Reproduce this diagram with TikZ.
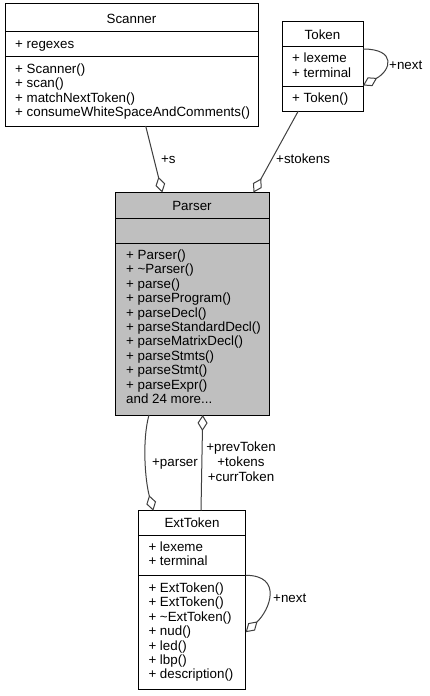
\documentclass[tikz,border=0pt]{standalone}
\usepackage{fontspec}
\setmainfont{Liberation Sans}
\usetikzlibrary{arrows.meta,calc}
\definecolor{edgegray}{HTML}{404040}
\definecolor{parsergray}{HTML}{BFBFBF}
\newcommand\memberlist[4]{\foreach \t [count=\i from 0] in {#4} {\node[mem] (#1\i) at (#2,{#3+14.4*\i}) {\t};}}
\newcommand\threedots{.\kern0pt.\kern0pt.}
\begin{document}
\begin{tikzpicture}[x=1bp,y=-1bp,
  classbox/.style={draw=black,line width=1bp,inner sep=0pt,outer sep=0pt,anchor=north west,fill=white},
  sepline/.style={draw=black,line width=1bp},
  mem/.style={anchor=base west,inner sep=0pt,font=\fontsize{13.4pt}{14.4pt}\selectfont},
  title/.style={anchor=center,inner sep=0pt,font=\fontsize{13.4pt}{14.4pt}\selectfont},
  lbl/.style={anchor=base west,inner sep=0pt,font=\fontsize{13.4pt}{14.4pt}\selectfont},
  clbl/.style={anchor=base,inner sep=0pt,font=\fontsize{13.4pt}{14.4pt}\selectfont},
  agg/.style={draw=edgegray,line width=1bp,{Diamond[open,length=16bp,width=10bp]}-}]
\useasboundingbox[fill=white] (0,0) rectangle (429,696);

% Scanner
\node[classbox,minimum width=253bp,minimum height=122bp] (scanner) at (5,4) {};
\draw[sepline] (scanner.west |- 0,32) -- (scanner.east |- 0,32);
\draw[sepline] (scanner.west |- 0,57) -- (scanner.east |- 0,57);
\node[title] (scannerT) at (131.5,18.5) {Scanner};
\memberlist{scanA}{15}{48.5}{+ regexes}
\memberlist{scanM}{15}{73.5}{+ Scanner(),+ scan(),+ matchNextToken(),+ consumeWhiteSpaceAndComments()}

% Token
\node[classbox,minimum width=81bp,minimum height=89.5bp] (token) at (282,21.5) {};
\draw[sepline] (token.west |- 0,47) -- (token.east |- 0,47);
\draw[sepline] (token.west |- 0,87) -- (token.east |- 0,87);
\node[title] (tokenT) at (322.5,34.5) {Token};
\memberlist{tokA}{292}{63}{+ lexeme,+ terminal}
\memberlist{tokM}{292}{103}{+ Token()}

% Parser
\node[classbox,fill=parsergray,minimum width=154bp,minimum height=222.5bp] (parser) at (115,192.5) {};
\draw[sepline] (parser.west |- 0,218) -- (parser.east |- 0,218);
\draw[sepline] (parser.west |- 0,243) -- (parser.east |- 0,243);
\node[title] (parserT) at (192,205.5) {Parser};
\memberlist{parM}{126}{259.5}{+ Parser(),+ \textasciitilde Parser(),+ parse(),+ parseProgram(),+ parseDecl(),+ parseStandardDecl(),+ parseMatrixDecl(),+ parseStmts(),+ parseStmt(),+ parseExpr(),{and 24 more\threedots}}

% ExtToken
\node[classbox,minimum width=107.4bp,minimum height=178.6bp] (ext) at (138.3,510.7) {};
\draw[sepline] (ext.west |- 0,535) -- (ext.east |- 0,535);
\draw[sepline] (ext.west |- 0,575.7) -- (ext.east |- 0,575.7);
\node[title] (extT) at (192,523) {ExtToken};
\memberlist{extA}{148.3}{551.5}{+ lexeme,+ terminal}
\memberlist{extM}{148.3}{592.5}{+ ExtToken(),+ ExtToken(),+ \textasciitilde ExtToken(),+ nud(),+ led(),+ lbp(),+ description()}

% Connectors
\draw[agg] ($(parser.north west)+(47.3,0)$) -- ($(scanner.south west)+(140.7,0)$);
\node[lbl] (ls) at (161,163) {+s};

\draw[agg] ($(parser.north west)+(138.5,0)$) -- ($(token.south west)+(16.3,0)$);
\node[lbl] (lstokens) at (276,163) {+stokens};

\draw[agg] ($(token.north east)+(0,64)$) .. controls ($(token.north east)+(28,49)$) and ($(token.north east)+(34,27.5)$) .. ($(token.north east)+(0,27.5)$);
\node[lbl] (ltnext) at (389,70) {+next};

\draw[agg] ($(ext.north west)+(15,0)$) .. controls ($(ext.north west)+(6.7,-30.7)$) and ($(parser.south west)+(27,25)$) .. ($(parser.south west)+(34,0)$);
\node[lbl] (lparser) at (152,466) {+parser};

\draw[agg] ($(parser.south west)+(87.7,0)$) -- ($(ext.north west)+(62.7,0)$);
\node[clbl] (lprev) at (241,451) {+prevToken};
\node[clbl] (ltokens) at (241,466) {+tokens};
\node[clbl] (lcurr) at (241,481) {+currToken};

\draw[agg] ($(ext.north east)+(0,121.5)$) .. controls ($(ext.north east)+(24.3,99.3)$) and ($(ext.north east)+(37.3,64.6)$) .. ($(ext.north east)+(0,64.6)$);
\node[lbl] (lenext) at (273,602) {+next};
\end{tikzpicture}
\end{document}
